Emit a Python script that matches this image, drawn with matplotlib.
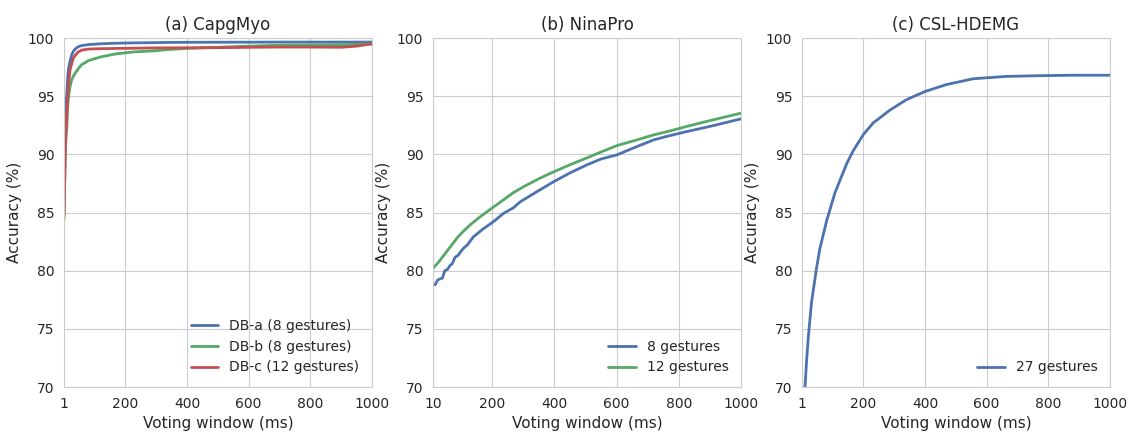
import numpy as np
import matplotlib
matplotlib.use("Agg")
import matplotlib.pyplot as plt
import seaborn as sns

# (a) CapgMyo
capg_window = [1, 5, 7.5, 9.7, 13, 15, 20.5, 26, 31, 37, 47, 58, 80, 118, 166, 225, 296, 334, 400, 550, 600, 700, 800, 900, 950, 1000]
capg_dba = [86.0, 93.0, 94.5, 95.0, 96.6, 97.25, 98.0, 98.54, 98.85, 99.05, 99.25, 99.35, 99.43, 99.5, 99.55, 99.58, 99.6, 99.62, 99.63, 99.64, 99.64, 99.65, 99.65, 99.65, 99.65, 99.65]
capg_dbb = [84.8, 90.0, 91.5, 92.1, 94.1, 94.8, 95.8, 96.4, 96.7, 96.96, 97.35, 97.7, 98.05, 98.36, 98.62, 98.8, 98.9, 99.0, 99.1, 99.25, 99.3, 99.38, 99.4, 99.42, 99.45, 99.5]
capg_dbc = [84.4, 90.0, 92.1, 93.3, 94.95, 95.8, 97.25, 97.8, 98.25, 98.5, 98.8, 98.95, 99.05, 99.08, 99.1, 99.12, 99.15, 99.15, 99.16, 99.18, 99.2, 99.22, 99.22, 99.2, 99.3, 99.5]

# (b) NinaPro
nina_window_8 = [10, 17, 25, 33, 40, 48, 56, 65, 72, 81, 90, 107, 120, 139.5, 171.7, 203.8, 237, 268, 291, 344.6, 398, 450, 505, 550, 601, 650, 719, 770, 826, 900, 1000]
nina_8 = [78.8, 78.8, 79.2, 79.3, 79.35, 80.0, 80.1, 80.45, 80.6, 81.16, 81.3, 81.9, 82.2, 82.9, 83.6, 84.2, 84.93, 85.4, 85.93, 86.8, 87.65, 88.4, 89.1, 89.6, 89.95, 90.5, 91.24, 91.6, 91.96, 92.4, 93.05]
nina_window_12 = [10, 30, 50, 70, 90, 110, 130, 160, 193, 237, 268, 300, 350, 398, 450, 505, 550, 601, 660, 719, 770, 826, 900, 1000]
nina_12 = [80.2, 80.8, 81.5, 82.2, 82.9, 83.45, 83.95, 84.6, 85.25, 86.1, 86.7, 87.2, 87.9, 88.5, 89.1, 89.7, 90.2, 90.75, 91.2, 91.67, 92.0, 92.4, 92.9, 93.54]

# (c) CSL-HDEMG
csl_window = [1, 10.7, 16, 21.5, 32, 48.6, 59, 81, 108, 146, 167, 200, 232, 286, 340, 400, 470, 557, 665, 773, 880, 1000]
csl_27 = [65.0, 70.0, 72.3, 74.3, 77.3, 80.3, 81.9, 84.3, 86.7, 89.2, 90.3, 91.7, 92.7, 93.8, 94.7, 95.4, 96.0, 96.5, 96.7, 96.76, 96.8, 96.8]

blue = "#4C72B0"
green = "#55A868"
red = "#C44E52"

sns.set_style("whitegrid", {"grid.color": ".8", "axes.edgecolor": ".8"})
plt.rcParams["font.family"] = ["DejaVu Sans"]
plt.rcParams["font.size"] = 10

fig = plt.figure(figsize=(11.31, 4.33), dpi=100)
lefts = [64 / 1131, 433 / 1131, 802 / 1131]
width = 308 / 1131
bottom = 1 - 387 / 433
height = 349 / 433
axes = [fig.add_axes([l, bottom, width, height]) for l in lefts]

ax = axes[0]
ax.plot(capg_window, capg_dba, color=blue, lw=2, label="DB-a (8 gestures)")
ax.plot(capg_window, capg_dbb, color=green, lw=2, label="DB-b (8 gestures)")
ax.plot(capg_window, capg_dbc, color=red, lw=2, label="DB-c (12 gestures)")
ax.set_title("(a) CapgMyo", fontsize=12)
ax.set_xlim(1, 1000)
ax.set_xticks([1, 200, 400, 600, 800, 1000])

ax = axes[1]
ax.plot(nina_window_8, nina_8, color=blue, lw=2, label="8 gestures")
ax.plot(nina_window_12, nina_12, color=green, lw=2, label="12 gestures")
ax.set_title("(b) NinaPro", fontsize=12)
ax.set_xlim(10, 1000)
ax.set_xticks([10, 200, 400, 600, 800, 1000])

ax = axes[2]
ax.plot(csl_window, csl_27, color=blue, lw=2, label="27 gestures")
ax.set_title("(c) CSL-HDEMG", fontsize=12)
ax.set_xlim(1, 1000)
ax.set_xticks([1, 200, 400, 600, 800, 1000])

for ax in axes:
    ax.set_ylim(70, 100)
    ax.set_yticks([70, 75, 80, 85, 90, 95, 100])
    ax.set_xlabel("Voting window (ms)", fontsize=11)
    ax.set_ylabel("Accuracy (%)", fontsize=11)
    ax.tick_params(labelsize=10, colors=".15")
    ax.legend(loc="lower right", frameon=False, fontsize=10)

fig.savefig("out.png", dpi=100)
